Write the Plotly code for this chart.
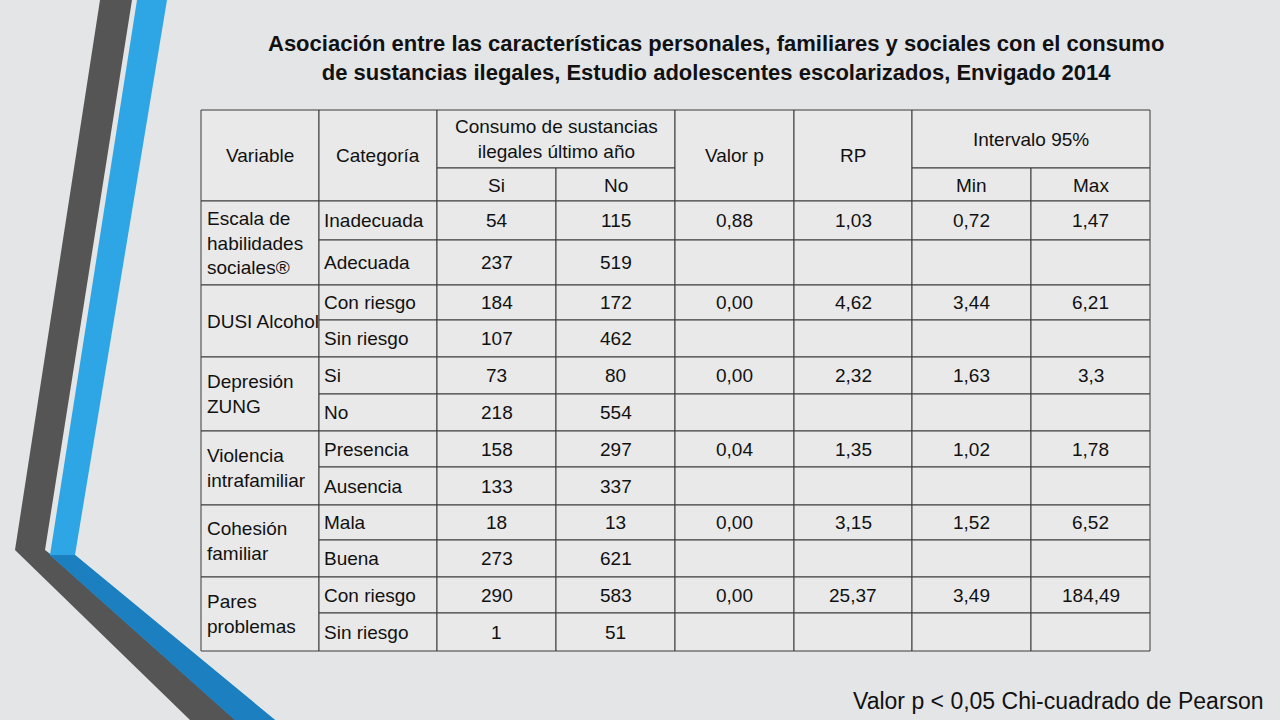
import plotly.graph_objects as go

title = "<b>Asociación entre las características personales, familiares y sociales con el consumo<br>de sustancias ilegales, Estudio adolescentes escolarizados, Envigado 2014</b>"
variables = ["Escala de<br>habilidades<br>sociales®", "DUSI Alcohol", "Depresión<br>ZUNG", "Violencia<br>intrafamiliar", "Cohesión<br>familiar", "Pares<br>problemas"]
categorias = [["Inadecuada", "Adecuada"], ["Con riesgo", "Sin riesgo"], ["Si", "No"],
              ["Presencia", "Ausencia"], ["Mala", "Buena"], ["Con riesgo", "Sin riesgo"]]
si = [[54, 237], [184, 107], [73, 218], [158, 133], [18, 273], [290, 1]]
no = [[115, 519], [172, 462], [80, 554], [297, 337], [13, 621], [583, 51]]
valor_p = ["0,88", "0,00", "0,00", "0,04", "0,00", "0,00"]
rp = ["1,03", "4,62", "2,32", "1,35", "3,15", "25,37"]
ic_min = ["0,72", "3,44", "1,63", "1,02", "1,52", "3,49"]
ic_max = ["1,47", "6,21", "3,3", "1,78", "6,52", "184,49"]
nota = "Valor p < 0,05 Chi-cuadrado de Pearson"

xs = [201, 319, 437, 556, 675, 794, 912, 1031, 1150]
hdr = [110, 168, 201]
rows = [201, 240, 285, 320, 357, 394, 431, 467, 505, 540, 577, 613, 651]

shapes, ann = [], []
FONT = "Liberation Sans, Arial"
def rect(x0, y0, x1, y1):
    shapes.append(dict(type="rect", x0=x0, y0=y0, x1=x1, y1=y1, fillcolor="#e9e9e9",
                       line=dict(color="#3a3a3a", width=1), layer="below"))
def txt(x, y, s, align="center", size=19, xa="center"):
    ann.append(dict(x=x, y=y, text=s, showarrow=False, xanchor=xa, yanchor="middle",
                    align=align, font=dict(family=FONT, size=size, color="#111")))

shapes.append(dict(type="path", path="M 100 0 L 132 0 L 45 550 L 270 720 L 190 720 L 15 550 Z",
                   fillcolor="#555555", line=dict(width=0), layer="below"))
shapes.append(dict(type="path", path="M 137 0 L 167 0 L 75 555 L 275 720 L 235 720 L 50 555 Z",
                   fillcolor="#2ea6e6", line=dict(width=0), layer="below"))
shapes.append(dict(type="path", path="M 50 555 L 75 555 L 275 720 L 235 720 Z",
                   fillcolor="#1b7fc0", line=dict(width=0), layer="below"))

rect(xs[0], hdr[0], xs[1], hdr[2]); txt((xs[0]+xs[1])/2, 155, "Variable")
rect(xs[1], hdr[0], xs[2], hdr[2]); txt((xs[1]+xs[2])/2, 155, "Categoría")
rect(xs[2], hdr[0], xs[4], hdr[1]); txt((xs[2]+xs[4])/2, 139, "Consumo de sustancias<br>ilegales último año")
rect(xs[2], hdr[1], xs[3], hdr[2]); txt((xs[2]+xs[3])/2, 185, "Si")
rect(xs[3], hdr[1], xs[4], hdr[2]); txt((xs[3]+xs[4])/2, 185, "No")
rect(xs[4], hdr[0], xs[5], hdr[2]); txt((xs[4]+xs[5])/2, 155, "Valor p")
rect(xs[5], hdr[0], xs[6], hdr[2]); txt((xs[5]+xs[6])/2, 155, "RP")
rect(xs[6], hdr[0], xs[8], hdr[1]); txt((xs[6]+xs[8])/2, 139, "Intervalo 95%")
rect(xs[6], hdr[1], xs[7], hdr[2]); txt((xs[6]+xs[7])/2, 185, "Min")
rect(xs[7], hdr[1], xs[8], hdr[2]); txt((xs[7]+xs[8])/2, 185, "Max")

for i, v in enumerate(variables):
    y0, ym, y1 = rows[2*i], rows[2*i+1], rows[2*i+2]
    rect(xs[0], y0, xs[1], y1); txt(xs[0]+4, (y0+y1)/2, v, align="left", xa="left")
    for j, (a, b) in enumerate([(y0, ym), (ym, y1)]):
        c = (a+b)/2
        rect(xs[1], a, xs[2], b); txt(xs[1]+3, c, categorias[i][j], align="left", xa="left")
        rect(xs[2], a, xs[3], b); txt((xs[2]+xs[3])/2, c, str(si[i][j]))
        rect(xs[3], a, xs[4], b); txt((xs[3]+xs[4])/2, c, str(no[i][j]))
        vals = [valor_p[i], rp[i], ic_min[i], ic_max[i]] if j == 0 else [""]*4
        for k in range(4):
            rect(xs[4+k], a, xs[5+k], b)
            if vals[k]:
                txt((xs[4+k]+xs[5+k])/2, c, vals[k])

ann.append(dict(x=716, y=58, text=title, showarrow=False, xanchor="center", yanchor="middle",
                font=dict(family=FONT, size=22, color="#111")))
ann.append(dict(x=1266, y=701, text=nota, showarrow=False, xanchor="right", yanchor="middle",
                font=dict(family=FONT, size=23, color="#111")))

fig = go.Figure()
fig.update_layout(width=1280, height=720, margin=dict(l=0, r=0, t=0, b=0),
                  paper_bgcolor="#e4e5e6", plot_bgcolor="rgba(0,0,0,0)",
                  xaxis=dict(range=[0, 1280], visible=False, fixedrange=True),
                  yaxis=dict(range=[720, 0], visible=False, fixedrange=True),
                  shapes=shapes, annotations=ann, showlegend=False)
fig.write_html("out.html", config={"displayModeBar": False},
               post_script="document.body.style.margin='0';document.body.style.overflow='hidden';")
